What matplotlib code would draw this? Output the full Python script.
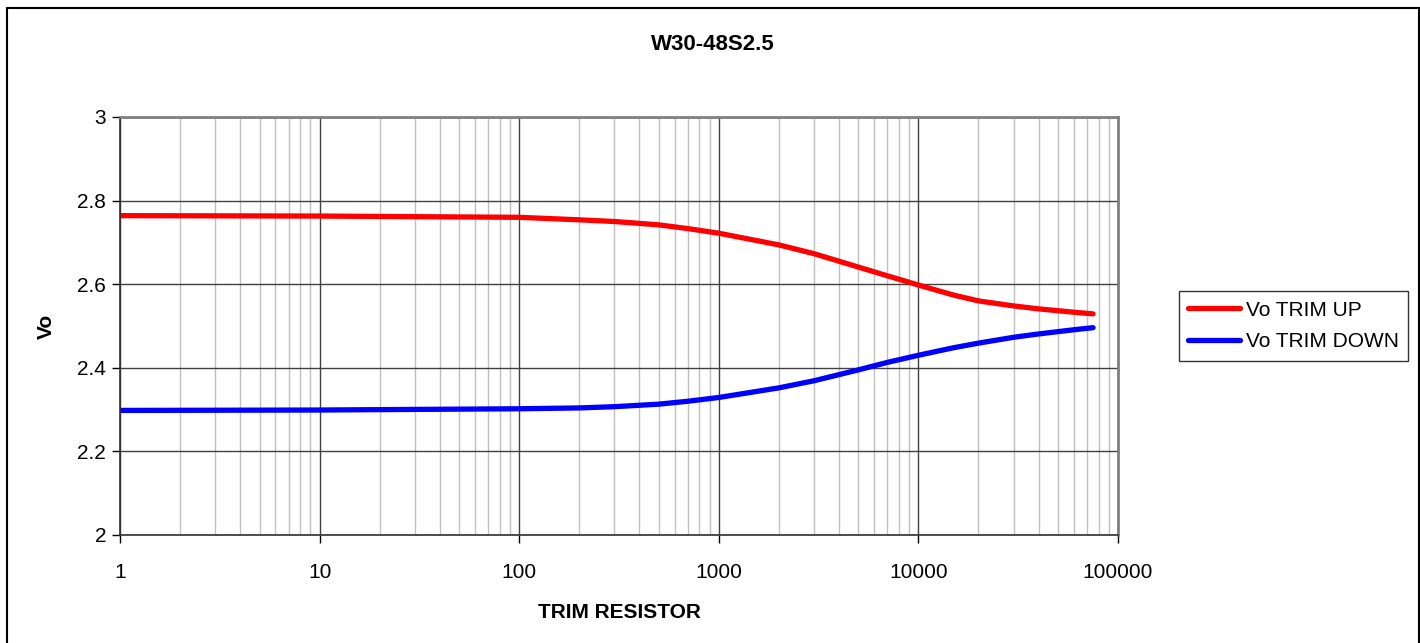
import matplotlib
matplotlib.use("Agg")
import matplotlib.pyplot as plt
from matplotlib.patches import Rectangle
from matplotlib.ticker import LogLocator, FixedLocator, NullFormatter

plt.rcParams["font.family"] = ["Liberation Sans", "DejaVu Sans"]

# Data
trim_resistor = [1, 10, 100, 200, 300, 500, 700, 1000, 2000, 3000, 5000, 7000,
                 10000, 15000, 20000, 30000, 40000, 60000, 75000]
vo_trim_up = [2.764, 2.763, 2.760, 2.754, 2.750, 2.742, 2.733, 2.722, 2.694, 2.673, 2.641, 2.620,
              2.598, 2.574, 2.560, 2.548, 2.541, 2.533, 2.529]
vo_trim_down = [2.298, 2.299, 2.302, 2.304, 2.307, 2.313, 2.320, 2.329, 2.352, 2.369, 2.395, 2.413,
                2.430, 2.448, 2.459, 2.473, 2.481, 2.491, 2.496]
x_ticks = [1, 10, 100, 1000, 10000, 100000]
y_ticks = [2, 2.2, 2.4, 2.6, 2.8, 3]

W, H = 1420, 643
fig = plt.figure(figsize=(W / 100, H / 100), dpi=100)

# outer chart border (bottom edge runs off the image)
fig.patches.append(Rectangle((7 / W, -0.02), (1419 - 7) / W, 1 - 8 / H + 0.02,
                             transform=fig.transFigure, fill=False,
                             edgecolor="black", linewidth=1.5))

ax = fig.add_axes([120 / W, 1 - 535 / H, (1118 - 120) / W, (535 - 117) / H])
ax.plot(trim_resistor, vo_trim_up, color="#ff0000", linewidth=3.8,
        solid_capstyle="round", solid_joinstyle="round", label="Vo TRIM UP")
ax.plot(trim_resistor, vo_trim_down, color="#0000ff", linewidth=3.8,
        solid_capstyle="round", solid_joinstyle="round", label="Vo TRIM DOWN")

ax.set_xscale("log")
ax.set_xlim(1, 100000)
ax.set_ylim(2, 3)
ax.xaxis.set_major_locator(FixedLocator(x_ticks))
ax.set_xticklabels([str(t) for t in x_ticks])
ax.xaxis.set_minor_locator(LogLocator(base=10, subs=range(2, 10), numticks=20))
ax.xaxis.set_minor_formatter(NullFormatter())
ax.set_yticks(y_ticks)
ax.set_yticklabels(["2", "2.2", "2.4", "2.6", "2.8", "3"])

ax.grid(True, which="major", color="#404040", linewidth=1.0)
ax.grid(True, which="minor", axis="x", color="#c0c0c0", linewidth=1.0)
ax.set_axisbelow(True)

ax.tick_params(which="major", direction="out", length=6, width=1, color="black",
               labelsize=15, pad=14)
ax.tick_params(axis="y", pad=4)
ax.tick_params(which="minor", length=0)

for side in ["left", "bottom"]:
    ax.spines[side].set_color("#303030")
    ax.spines[side].set_linewidth(1.2)
for side in ["top", "right"]:
    ax.spines[side].set_color("#808080")
    ax.spines[side].set_linewidth(2)

fig.text(713 / W, 1 - 45 / H, "W30-48S2.5", ha="center", va="center",
         fontsize=16, fontweight="bold")
fig.text(619 / W, 1 - 612 / H, "TRIM RESISTOR", ha="center", va="center",
         fontsize=15, fontweight="bold")
fig.text(46 / W, 1 - 326 / H, "Vo", ha="center", va="center", rotation=90,
         fontsize=15, fontweight="bold")

leg = fig.legend(loc="center left", bbox_to_anchor=(1179 / W, 1 - 326 / H),
                 fontsize=15, frameon=True, fancybox=False, handlelength=2.5,
                 handletextpad=0.25, labelspacing=0.6, borderpad=0.45,
                 borderaxespad=0)
leg.get_frame().set_edgecolor("black")
leg.get_frame().set_linewidth(1.0)

fig.savefig("out.png", dpi=100)
